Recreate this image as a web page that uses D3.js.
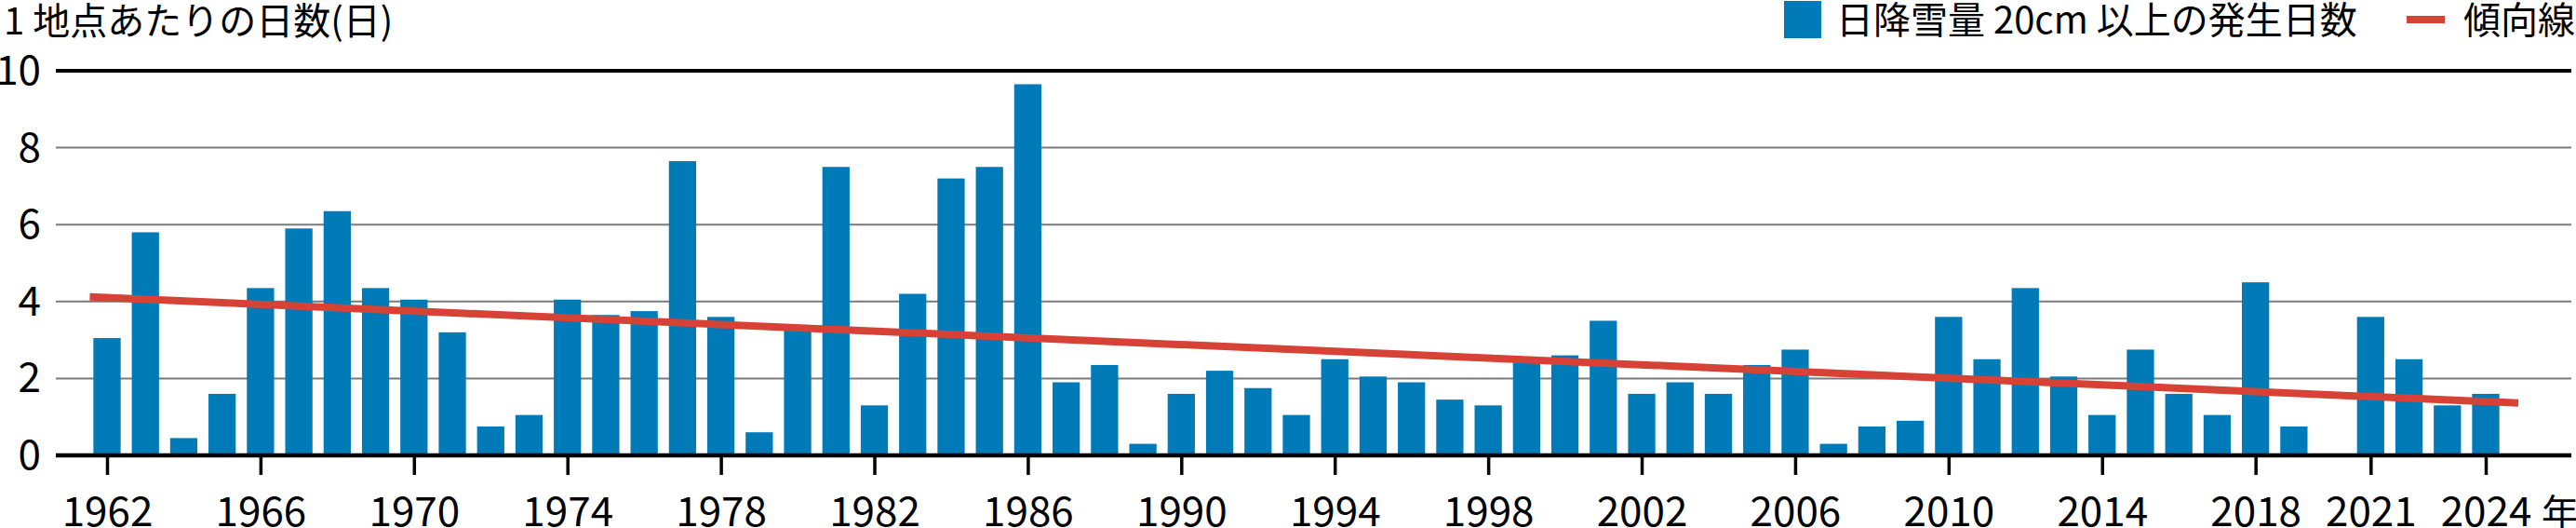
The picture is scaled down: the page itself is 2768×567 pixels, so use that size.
<!DOCTYPE html>
<html>
<head>
<meta charset="utf-8">
<script src="https://cdn.jsdelivr.net/npm/d3@7"></script>
<style>
  html, body { margin: 0; padding: 0; background: #fff; }
  svg { display: block; }
  text { font-family: "Noto Sans CJK JP", "Noto Sans", sans-serif; fill: #000; }
</style>
</head>
<body>
<svg id="chart" width="2768" height="567"></svg>
<script>
// ---- data ----
const years = [1962,1963,1964,1965,1966,1967,1968,1969,1970,1971,1972,1973,1974,1975,1976,1977,1978,1979,1980,1981,1982,1983,1984,1985,1986,1987,1988,1989,1990,1991,1992,1993,1994,1995,1996,1997,1998,1999,2000,2001,2002,2003,2004,2005,2006,2007,2008,2009,2010,2011,2012,2013,2014,2015,2016,2017,2018,2019,2020,2021,2022,2023,2024];
const days = [3.05,5.8,0.45,1.6,4.35,5.9,6.35,4.35,4.05,3.2,0.75,1.05,4.05,3.65,3.75,7.65,3.6,0.6,3.3,7.5,1.3,4.2,7.2,7.5,9.65,1.9,2.35,0.3,1.6,2.2,1.75,1.05,2.5,2.05,1.9,1.45,1.3,2.45,2.6,3.5,1.6,1.9,1.6,2.35,2.75,0.3,0.75,0.9,3.6,2.5,4.35,2.05,1.05,2.75,1.6,1.05,4.5,0.75,null,3.6,2.5,1.3,1.6];
const trendYears = [1961.55, 2024.85];
const trendValues = [4.12, 1.36];
const xTickYears = [1962,1966,1970,1974,1978,1982,1986,1990,1994,1998,2002,2006,2010,2014,2018,2021,2024];
const yTicks = [0,2,4,6,8,10];
const titleText = "1 地点あたりの日数(日)";
const legendBarText = "日降雪量 20cm 以上の発生日数";
const legendLineText = "傾向線";
const yearUnit = "年";

// ---- layout ----
const svg = d3.select("#chart");
const barColor = "#007bb8";
const lineColor = "#d64336";
const gridLeft = 60, gridRight = 2763;
const firstCenter = 115, lastCenter = 2671;
const step = (lastCenter - firstCenter) / (years.length - 1);

const x = d3.scaleBand()
  .domain(years)
  .range([firstCenter - step / 2, lastCenter + step / 2])
  .paddingInner(0.29)
  .paddingOuter(0.145);
const xLin = d3.scaleLinear()
  .domain([years[0], years[years.length - 1]])
  .range([firstCenter, lastCenter]);
const y = d3.scaleLinear().domain([0, 10]).range([489, 76]);

// gridlines
const yAxis = d3.axisLeft(y).tickValues(yTicks).tickSize(0).tickFormat(d => d);
const gGrid = svg.append("g");
gGrid.selectAll("line").data(yTicks.filter(d => d !== 0 && d !== 10)).join("line")
  .attr("x1", gridLeft).attr("x2", gridRight)
  .attr("y1", d => y(d)).attr("y2", d => y(d))
  .attr("stroke", "#7a7a7a").attr("stroke-width", 2);
gGrid.append("line")
  .attr("x1", gridLeft).attr("x2", gridRight)
  .attr("y1", y(10)).attr("y2", y(10))
  .attr("stroke", "#000").attr("stroke-width", 4);

// y labels
const gy = svg.append("g").attr("transform", "translate(44,0)").call(yAxis);
gy.select(".domain").remove();
gy.selectAll("text")
  .attr("x", 0).attr("dy", null).attr("y", 14.5)
  .attr("text-anchor", "end")
  .style("font-family", '"Noto Sans CJK JP", sans-serif')
  .style("font-size", "44px").attr("fill", "#000");

// bars
svg.append("g").selectAll("rect")
  .data(years.map((yr, i) => ({yr, v: days[i]})).filter(d => d.v != null))
  .join("rect")
  .attr("x", d => x(d.yr))
  .attr("width", x.bandwidth())
  .attr("y", d => y(d.v))
  .attr("height", d => y(0) - y(d.v))
  .attr("fill", barColor);

// x axis
const xAxis = d3.axisBottom(xLin).tickValues(xTickYears).tickSize(21).tickPadding(26).tickFormat(d3.format("d"));
const gx = svg.append("g").attr("transform", `translate(0,${y(0)})`).call(xAxis);
gx.select(".domain").remove();
gx.selectAll(".tick line").attr("stroke", "#000").attr("stroke-width", 3.5);
gx.selectAll(".tick text")
  .attr("y", 76).attr("dy", null)
  .style("font-family", '"Noto Sans CJK JP", sans-serif')
  .style("font-size", "44px").attr("fill", "#000");
svg.append("line")
  .attr("x1", gridLeft).attr("x2", gridRight)
  .attr("y1", y(0)).attr("y2", y(0))
  .attr("stroke", "#000").attr("stroke-width", 4.5);
svg.append("text").attr("x", 2731).attr("y", 565)
  .style("font-size", "40px").text(yearUnit);

// trend line
const line = d3.line().x(d => xLin(d[0])).y(d => y(d[1]));
svg.append("path")
  .datum(trendYears.map((t, i) => [t, trendValues[i]]))
  .attr("d", line)
  .attr("fill", "none").attr("stroke", lineColor).attr("stroke-width", 8);

// title
svg.append("text").attr("x", 4).attr("y", 37)
  .style("font-size", "40px").text(titleText);

// legend
svg.append("rect").attr("x", 1917).attr("y", 1).attr("width", 40).attr("height", 40).attr("fill", barColor);
svg.append("text").attr("x", 1973).attr("y", 36)
  .style("font-size", "40px").text(legendBarText);
svg.append("line").attr("x1", 2586).attr("x2", 2627).attr("y1", 21).attr("y2", 21)
  .attr("stroke", lineColor).attr("stroke-width", 8);
svg.append("text").attr("x", 2647).attr("y", 36)
  .style("font-size", "40px").text(legendLineText);
</script>
</body>
</html>
